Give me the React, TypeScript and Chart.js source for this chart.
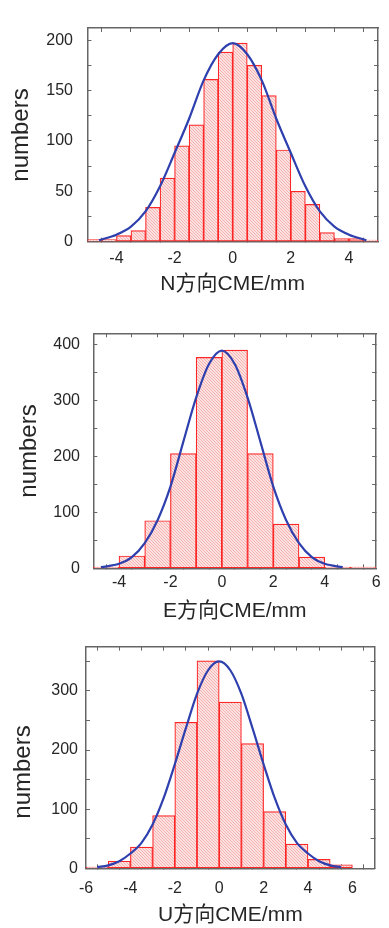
import React, { useEffect, useRef } from 'react';
import { Chart, registerables } from 'chart.js';

Chart.register(...registerables);

// ---------- N panel data ----------
const nBinCenters = [-4.75, -4.25, -3.75, -3.25, -2.75, -2.25, -1.75, -1.25, -0.75, -0.25, 0.25, 0.75, 1.25, 1.75, 2.25, 2.75, 3.25, 3.75, 4.25, 4.75];
const nCounts = [2, 2, 6, 11, 34, 63, 95, 116, 161, 188, 197, 175, 145, 91, 50, 37, 9, 3, 3, 1.5];
const nCurveX = [-4.6, -4, -3.5, -3, -2.5, -2, -1.5, -1, -0.5, 0, 0.5, 1, 1.5, 2, 2.5, 3, 3.5, 4, 4.6];
const nCurveY = [1.5, 7, 15, 30, 55, 88, 122, 160, 186, 197, 186, 160, 122, 88, 55, 30, 15, 7, 1.5];
const nXTickLabels = [-4, -2, 0, 2, 4];
const nYTickLabels = [0, 50, 100, 150, 200];

// ---------- E panel data ----------
const eBinCenters = [-4.5, -3.5, -2.5, -1.5, -0.5, 0.5, 1.5, 2.5, 3.5, 4.5, 5.5];
const eCounts = [2, 22, 85, 205, 377, 390, 205, 79, 20, 2, 2];
const eCurveX = [-4.7, -4, -3.5, -3, -2.5, -2, -1.5, -1, -0.5, 0, 0.5, 1, 1.5, 2, 2.5, 3, 3.5, 4, 4.7];
const eCurveY = [2, 8, 20, 45, 86, 146, 226, 305, 365, 389, 365, 305, 226, 146, 86, 45, 20, 8, 2];
const eXTickLabels = [-4, -2, 0, 2, 4, 6];
const eYTickLabels = [0, 100, 200, 300, 400];

// ---------- U panel data ----------
const uBinCenters = [-5.5, -4.5, -3.5, -2.5, -1.5, -0.5, 0.5, 1.5, 2.5, 3.5, 4.5, 5.5];
const uCounts = [2, 12, 36, 89, 247, 351, 281, 211, 96, 41, 15, 6];
const uCurveX = [-5.5, -5, -4.5, -4, -3.5, -3, -2.5, -2, -1.5, -1, -0.5, 0, 0.5, 1, 1.5, 2, 2.5, 3, 3.5, 4, 4.5, 5, 5.5];
const uCurveY = [2, 5, 12, 25, 43, 74, 119, 176, 237, 295, 335, 350, 335, 295, 237, 176, 119, 74, 43, 25, 12, 5, 2];
const uXTickLabels = [-6, -4, -2, 0, 2, 4, 6];
const uYTickLabels = [0, 100, 200, 300];

const W = 389;
const FONT = '"Liberation Sans", Arial, "Noto Sans CJK SC", sans-serif';
const TEXT = '#262626';
const FRAME = '#666666';
const RED = '#ff2626';
const BLUE = '#2e3fae';

type PanelDef = {
  top: number;
  height: number;
  plot: { left: number; right: number; top: number; bottom: number };
  xMin: number;
  xMax: number;
  xStep: number;
  yMax: number;
  yStep: number;
  xLabels: number[];
  yLabels: number[];
  centers: number[];
  counts: number[];
  curveX: number[];
  curveY: number[];
  xTitle: string;
  xTickPad: number;
  yTickPad: number;
  xTitlePad: number;
  yTitleX: number;
  yTitleY: number;
};

const panels: PanelDef[] = [
  {
    top: 0, height: 305,
    plot: { left: 87.4, right: 383.7, top: 6.7, bottom: 241.7 },
    xMin: -5, xMax: 5, xStep: 1, yMax: 212, yStep: 25,
    xLabels: nXTickLabels, yLabels: nYTickLabels,
    centers: nBinCenters, counts: nCounts, curveX: nCurveX, curveY: nCurveY,
    xTitle: 'N方向CME/mm', xTickPad: 11, yTickPad: 18.4, xTitlePad: 8, yTitleX: 21, yTitleY: 135,
  },
  {
    top: 305, height: 320,
    plot: { left: 93.3, right: 382.7, top: 28.3, bottom: 263.3 },
    xMin: -5, xMax: 6, xStep: 1, yMax: 420, yStep: 50,
    xLabels: eXTickLabels, yLabels: eYTickLabels,
    centers: eBinCenters, counts: eCounts, curveX: eCurveX, curveY: eCurveY,
    xTitle: 'E方向CME/mm', xTickPad: 8.4, yTickPad: 17.3, xTitlePad: 1, yTitleX: 29, yTitleY: 146,
  },
  {
    top: 625, height: 303,
    plot: { left: 86, right: 382.7, top: 16.7, bottom: 243.3 },
    xMin: -6, xMax: 7, xStep: 1, yMax: 375, yStep: 50,
    xLabels: uXTickLabels, yLabels: uYTickLabels,
    centers: uBinCenters, counts: uCounts, curveX: uCurveX, curveY: uCurveY,
    xTitle: 'U方向CME/mm', xTickPad: 14.4, yTickPad: 12, xTitlePad: 0, yTitleX: 23, yTitleY: 147,
  },
];

function makeHatch(ctx: CanvasRenderingContext2D) {
  const s = 3;
  const c = document.createElement('canvas');
  c.width = s;
  c.height = s;
  const g = c.getContext('2d')!;
  g.fillStyle = '#fde2e2';
  g.fillRect(0, 0, s, s);
  g.strokeStyle = '#f7b0b0';
  g.lineWidth = 1;
  g.beginPath();
  g.moveTo(-1, -1); g.lineTo(s + 1, s + 1);
  g.moveTo(-1, s - 1); g.lineTo(1, s + 1);
  g.moveTo(s - 1, -1); g.lineTo(s + 1, 1);
  g.stroke();
  return ctx.createPattern(c, 'repeat') as CanvasPattern;
}

const yTitlePlugin = {
  id: 'yTitle',
  afterDraw(chart: any, _args: any, opts: any) {
    const ctx = chart.ctx as CanvasRenderingContext2D;
    ctx.save();
    ctx.translate(opts.x, opts.y);
    ctx.rotate(-Math.PI / 2);
    ctx.font = `24px ${FONT}`;
    ctx.fillStyle = TEXT;
    ctx.textAlign = 'center';
    ctx.textBaseline = 'middle';
    ctx.fillText(opts.text, 0, 0);
    ctx.restore();
  },
};

const has = (arr: number[], v: number) => arr.some((a) => Math.abs(a - v) < 1e-6);

function HistPanel({ p }: { p: PanelDef }) {
  const ref = useRef<HTMLCanvasElement>(null);
  useEffect(() => {
    const canvas = ref.current!;
    const pattern = makeHatch(canvas.getContext('2d')!);
    const gridOpts = { drawOnChartArea: false, drawTicks: true, tickLength: -4, color: FRAME, lineWidth: 1 };
    const borderOpts = { display: true, color: FRAME, width: 1.5 };
    const tickFont = { family: FONT, size: 16 };
    const chart = new Chart(canvas, {
      type: 'bar',
      data: {
        datasets: [
          {
            type: 'line',
            data: p.curveX.map((x, i) => ({ x, y: p.curveY[i] })),
            borderColor: BLUE,
            borderWidth: 2.2,
            pointRadius: 0,
            cubicInterpolationMode: 'monotone',
            fill: false,
            order: 0,
          } as any,
          {
            type: 'bar',
            data: p.centers.map((x, i) => ({ x, y: p.counts[i] })),
            backgroundColor: pattern,
            borderColor: RED,
            borderWidth: 1.2,
            borderSkipped: false,
            barPercentage: 1,
            categoryPercentage: 1,
            order: 1,
          } as any,
        ],
      },
      options: {
        responsive: false,
        animation: false,
        layout: { padding: { left: 0, top: p.plot.top, right: W - p.plot.right, bottom: 0 } },
        plugins: {
          legend: { display: false },
          tooltip: { enabled: false },
          yTitle: { text: 'numbers', x: p.yTitleX, y: p.yTitleY },
        } as any,
        scales: {
          x: {
            type: 'linear',
            position: 'bottom',
            min: p.xMin,
            max: p.xMax,
            offset: false,
            afterFit: (s: any) => { s.height = p.height - p.plot.bottom; },
            grid: gridOpts,
            border: borderOpts,
            ticks: {
              stepSize: p.xStep,
              autoSkip: false,
              maxRotation: 0,
              includeBounds: false,
              padding: p.xTickPad,
              color: TEXT,
              font: tickFont,
              callback: (v: any) => (has(p.xLabels, Number(v)) ? String(v) : ''),
            },
            title: {
              display: true,
              text: p.xTitle,
              color: TEXT,
              font: { family: FONT, size: 21 },
              padding: { top: 0, bottom: p.xTitlePad },
            },
          },
          x2: {
            type: 'linear',
            axis: 'x',
            position: 'top',
            min: p.xMin,
            max: p.xMax,
            offset: false,
            afterFit: (s: any) => { s.height = 0; },
            grid: gridOpts,
            border: borderOpts,
            ticks: { stepSize: p.xStep, autoSkip: false, includeBounds: false, display: false },
          },
          y: {
            type: 'linear',
            position: 'left',
            min: 0,
            max: p.yMax,
            afterFit: (s: any) => { s.width = p.plot.left; },
            grid: gridOpts,
            border: borderOpts,
            ticks: {
              stepSize: p.yStep,
              autoSkip: false,
              includeBounds: false,
              padding: p.yTickPad,
              color: TEXT,
              font: tickFont,
              callback: (v: any) => (has(p.yLabels, Number(v)) ? String(v) : ''),
            },
          },
          y2: {
            type: 'linear',
            axis: 'y',
            position: 'right',
            min: 0,
            max: p.yMax,
            afterFit: (s: any) => { s.width = 0; },
            grid: gridOpts,
            border: borderOpts,
            ticks: { stepSize: p.yStep, autoSkip: false, includeBounds: false, display: false },
          },
        } as any,
      },
      plugins: [yTitlePlugin as any],
    });
    return () => chart.destroy();
  }, [p]);
  return (
    <div style={{ position: 'absolute', left: 0, top: p.top, width: W, height: p.height }}>
      <canvas ref={ref} width={W} height={p.height} style={{ display: 'block' }} />
    </div>
  );
}

export default function App() {
  return (
    <div style={{ position: 'absolute', left: 0, top: 0, width: W, height: 928, background: '#fff' }}>
      {panels.map((p, i) => (
        <HistPanel key={i} p={p} />
      ))}
    </div>
  );
}
